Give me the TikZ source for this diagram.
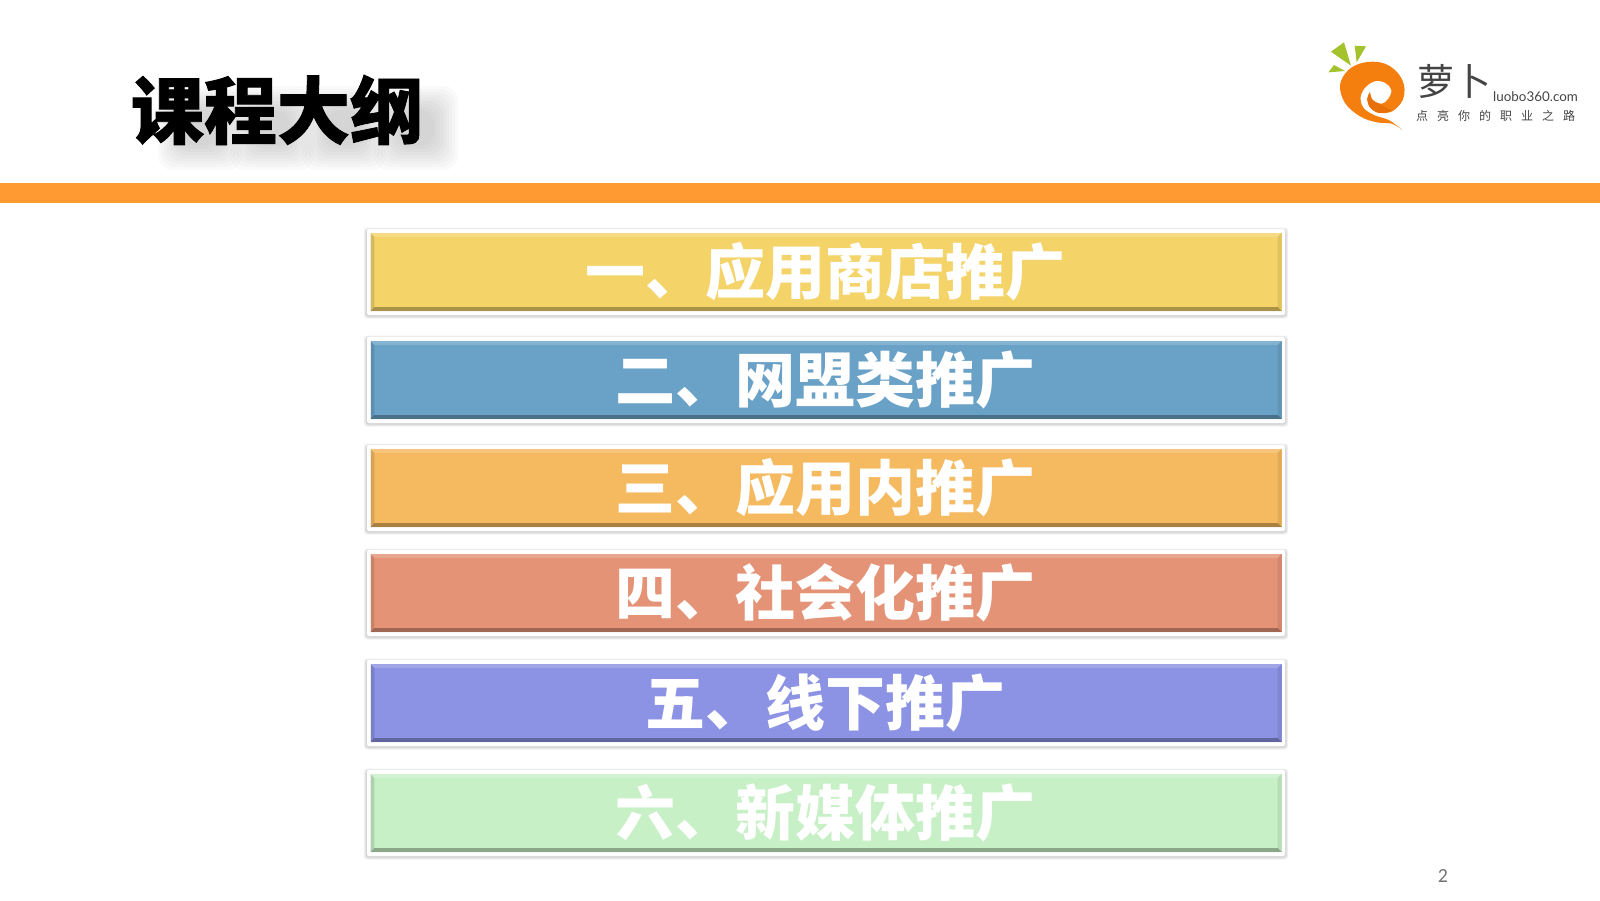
\documentclass[tikz,border=0pt]{standalone}
\usepackage{fontspec}
\setmainfont{Noto Sans CJK SC}
\newfontfamily\titlefont[BoldFeatures={FakeBold=1.2}]{Noto Sans CJK SC}
\newfontfamily\slogfont[LetterSpace=75]{Noto Sans CJK SC}
\newfontfamily\sitefont{Lato}
\newfontfamily\pagefont{Carlito}

\definecolor{baror}{HTML}{FF9A33}
\definecolor{rowyel}{HTML}{F4D368}
\definecolor{rowblu}{HTML}{6AA2C7}
\definecolor{rowora}{HTML}{F5B95F}
\definecolor{rowsal}{HTML}{E59377}
\definecolor{rowpur}{HTML}{8C92E4}
\definecolor{rowgre}{HTML}{C7F0C7}
\definecolor{logoor}{HTML}{F57F0E}
\definecolor{logodk}{HTML}{E8700A}
\definecolor{logogr}{HTML}{A4C22C}
\definecolor{logotx}{HTML}{444444}

\tikzset{
  itembox/.style={rectangle,inner sep=0pt,minimum width=911pt,minimum height=78pt,
    text=white,font=\bfseries\fontsize{60}{60}\selectfont},
  titletext/.style={inner sep=0pt,font=\titlefont\bfseries\fontsize{73}{73}\selectfont}
}

\begin{document}
\begin{tikzpicture}[x=1pt,y=-1pt]
      \useasboundingbox (0,0) rectangle (1600,900);

      % soft shadow under the title
      \foreach \xpos in {186,258,330,402} {
        \foreach \r in {18,21,...,42} {
          \fill[black,opacity=.02,rounded corners=14pt]
            (\xpos+14-\r,128-\r) rectangle (\xpos+14+\r,128+\r);
        }
      }
      \node[titletext,text=black] (title) at (277,110) {课程大纲};

      \fill[baror] (0,183) rectangle (1600,203);

      % the six rows
      \foreach \rowname/\ypos/\rowcolor/\rowtext in {
          rowa/272/rowyel/一、应用商店推广,
          rowb/380/rowblu/二、网盟类推广,
          rowc/488/rowora/三、应用内推广,
          rowd/593/rowsal/四、社会化推广,
          rowe/703/rowpur/五、线下推广,
          rowf/813/rowgre/六、新媒体推广} {
        \foreach \r in {3,2,1} {
          \fill[black,opacity=.06,rounded corners=3pt]
            (367-\r,\ypos-43-\r+1.5) rectangle (1285+\r,\ypos+42+\r+1.5);
        }
        \fill[white,rounded corners=2pt] (367,\ypos-43) rectangle (1285,\ypos+43);
        \node[itembox,fill=\rowcolor] (\rowname) at (826,\ypos) {\hspace*{-2pt}\rowtext};
        \fill[white,opacity=.18] (\rowname.north west) -- (\rowname.north east)
          -- ([shift={(-4,4)}]\rowname.north east) -- ([shift={(4,4)}]\rowname.north west) -- cycle;
        \fill[black,opacity=.12] (\rowname.north west) -- (\rowname.south west)
          -- ([shift={(4,-4)}]\rowname.south west) -- ([shift={(4,4)}]\rowname.north west) -- cycle;
        \fill[black,opacity=.08] (\rowname.north east) -- (\rowname.south east)
          -- ([shift={(-4,-4)}]\rowname.south east) -- ([shift={(-4,4)}]\rowname.north east) -- cycle;
        \fill[black,opacity=.3] (\rowname.south west) -- (\rowname.south east)
          -- ([shift={(-4,-4)}]\rowname.south east) -- ([shift={(4,-4)}]\rowname.south west) -- cycle;
      }

      % logo
      \begin{scope}[shift={(1320,35)},x=.3333pt,y=-.3333pt]
        \fill[logogr] (33,50) -- (72,22) -- (93,92) -- cycle;
        \fill[logogr] (104,32) -- (138,34) -- (110,82) -- cycle;
        \fill[logogr] (25,112) -- (42,90) -- (75,108) -- cycle;
        \fill[logoor] plot[smooth,tension=.6] coordinates {(247,285) (215,266) (170,262) (120,244) (75,204)
            (60,150) (85,105) (130,83) (185,83) (228,108) (252,150) (248,195) (218,228) (178,234) (150,217) (142,190) (150,172)}
          -- plot[smooth,tension=.6] coordinates {(150,172) (158,195) (185,206) (206,190) (214,165) (198,145)
            (168,138) (138,155) (122,185) (130,218) (162,240) (208,256) (247,285)} -- cycle;
        \fill[logodk] plot[smooth,tension=.6] coordinates {(150,172) (142,190) (150,217) (178,234) (218,228)}
          -- plot[smooth,tension=.6] coordinates {(218,228) (190,212) (158,195) (150,172)} -- cycle;
      \end{scope}
      \node[inner sep=0pt,text=logotx,font=\fontsize{37}{37}\selectfont] (logoname) at (1454,81) {萝卜};
      \node[inner sep=0pt,anchor=base west,text=logotx,font=\sitefont\fontsize{13.4}{14}\selectfont] (logosite) at (1493,101) {luobo360.com};
      \node[inner sep=0pt,anchor=west,text=logotx,font=\slogfont\fontsize{12}{12}\selectfont] (logoslogan) at (1416,116) {点亮你的职业之路};

      \node[inner sep=0pt,text=black!55,font=\pagefont\fontsize{20}{20}\selectfont] (pagenum) at (1443,876) {2};

    \end{tikzpicture}
\end{document}
